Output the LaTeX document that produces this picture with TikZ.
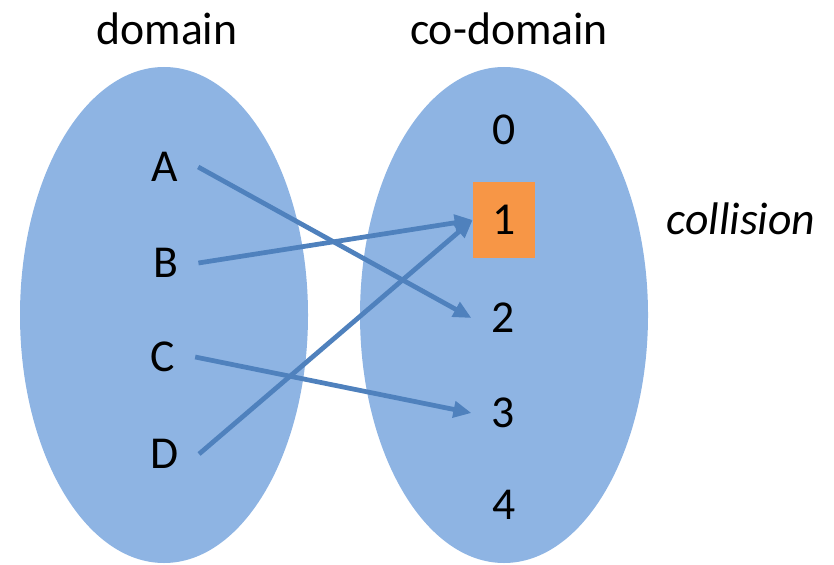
\documentclass[tikz,border=0pt]{standalone}
\usepackage{fontspec}
\setmainfont{Carlito}
\usetikzlibrary{arrows.meta}
\definecolor{setblue}{HTML}{8EB4E3}
\definecolor{linkblue}{HTML}{4F81BD}
\definecolor{hitorange}{HTML}{F79646}
\begin{document}
\begin{tikzpicture}[x=0.02cm, y=-0.02cm,
every node/.style={font=\fontsize{26}{30}\selectfont},
elem/.style={inner sep=0, outer sep=0.4cm},
link/.style={linkblue, line width=2.7pt, -{Triangle[length=0.36cm, width=0.32cm]}}]
\useasboundingbox (0,0) rectangle (834,564);
\fill[setblue] (164,315) ellipse [x radius=144, y radius=248];
\fill[setblue] (504,315) ellipse [x radius=144, y radius=248];
\node [anchor = base] (dom) at (167,45){domain};
\node [anchor = base] (codom) at (509,45){co-domain};
\node [elem] (A) at (165,167){A};
\node [elem] (B) at (166,263){B};
\node [elem] (C) at (163,357){C};
\node [elem] (D) at (165,454){D};
\node [elem] (n0) at (504,130){0};
\node [fill = hitorange, minimum width= 1.24cm, minimum height= 1.54cm, inner sep=0] (n1) at (504,220){1};
\node [elem] (n2) at (503,318){2};
\node [elem] (n3) at (503,413){3};
\node [elem] (n4) at (504,505){4};
\node [anchor = base] (hit) at (741,235){\itshape collision};
\draw[link] (A.east) -- (n2.west);
\draw[link] (B.east) -- (n1.west);
\draw[link] (C.east) -- (n3.west);
\draw[link] (D.east) -- (n1.west);
\end{tikzpicture}
\end{document}
